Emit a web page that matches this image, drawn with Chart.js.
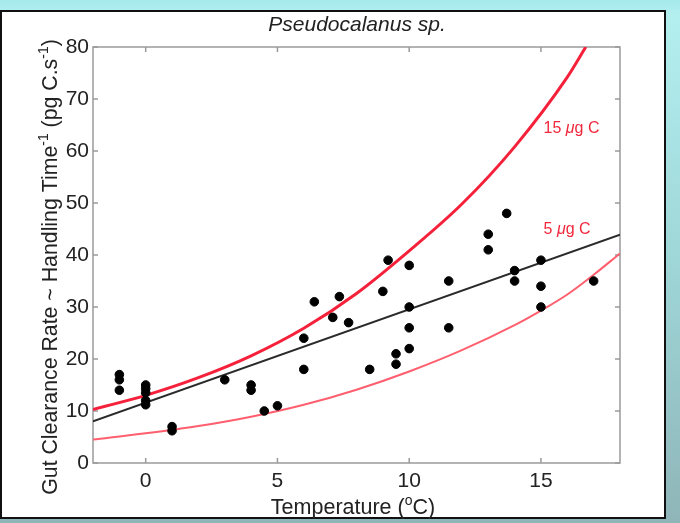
<!DOCTYPE html>
<html>
<head>
<meta charset="utf-8">
<script src="https://cdn.jsdelivr.net/npm/chart.js@4.4.1/dist/chart.umd.min.js"></script>
<style>
  html, body { margin:0; padding:0; }
  body { width:680px; height:523px; position:relative; overflow:hidden;
         background: linear-gradient(180deg, #a6eaec 0%, #b4eff0 3%, #9fd6d8 50%, #8fb5b8 100%); }
  #frame { position:absolute; left:0; top:10px; width:662px; height:505px; background:#fff; border:2px solid #111; }
  #c { position:absolute; left:0; top:0; }
</style>
</head>
<body>
<div id="frame"></div>
<canvas id="c" width="680" height="523"></canvas>
<script>
// ---- data ----
const obsTemp = [-1, -1, -1, 0, 0, 0, 0, 0, 1, 1, 3, 4, 4, 4.5, 5, 6, 6, 6.4, 7.1, 7.35, 7.7,
                 8.5, 9, 9.2, 9.5, 9.5, 10, 10, 10, 10, 11.5, 11.5, 13, 13, 13.7, 14, 14, 15, 15, 15, 17];
const obsRate = [17, 16, 14, 15, 14.3, 13.5, 12, 11.2, 7, 6.2, 16, 15, 14, 10, 11, 24, 18, 31, 28, 32, 27,
                 18, 33, 39, 21, 19, 38, 30, 26, 22, 35, 26, 44, 41, 48, 37, 35, 39, 34, 30, 35];

const curve15Temp = [-2, 0, 2, 4, 6, 8, 10, 12, 14, 16, 16.7];
const curve15Rate = [10.3, 13, 16.4, 20.6, 25.9, 32.6, 40.8, 49.8, 60.8, 74.2, 80];

const curve5Temp = [-2, 0, 2, 4, 6, 8, 10, 12, 14, 15, 16, 17, 18];
const curve5Rate = [4.5, 5.7, 7.1, 8.9, 11.2, 14.1, 17.6, 21.7, 26.5, 29.3, 32.4, 36.2, 40.3];

const fitTemp = [-2, 18];
const fitRate = [8, 43.9];

const xTicks = [0, 5, 10, 15];
const yTicks = [0, 10, 20, 30, 40, 50, 60, 70, 80];

const titleText = 'Pseudocalanus sp.';
const curveLabels = [{temp: 15.1, rate: 64.4, pre: '15 ', mu: 'μ', post: 'g C'},
                     {temp: 15.1, rate: 44.8, pre: '5 ', mu: 'μ', post: 'g C'}];

const pts = (xs, ys) => xs.map((x, i) => ({x: x, y: ys[i]}));
const FONT = '"Liberation Sans", Arial, Helvetica, sans-serif';

function drawSegments(ctx, segs, cx, cy, size) {
  const fontFor = s => (s.italic ? 'italic ' : '') + (s.sup ? Math.round(size * 0.66) : size) + 'px ' + FONT;
  let total = 0;
  segs.forEach(s => { ctx.font = fontFor(s); s.w = ctx.measureText(s.t).width; total += s.w; });
  let x = cx - total / 2;
  ctx.textBaseline = 'alphabetic';
  ctx.textAlign = 'left';
  segs.forEach(s => {
    ctx.font = fontFor(s);
    ctx.fillText(s.t, x, cy + (s.sup ? -size * 0.42 : 0));
    x += s.w;
  });
}

const decor = {
  id: 'decor',
  beforeDatasetsDraw(chart) {
    const ctx = chart.ctx, a = chart.chartArea;
    const xs = chart.scales.x, ys = chart.scales.y;
    ctx.save();
    ctx.strokeStyle = '#9a9a9a';
    ctx.lineWidth = 1.5;
    ctx.strokeRect(a.left, a.top, a.right - a.left, a.bottom - a.top);
    ctx.beginPath();
    xTicks.forEach(v => {
      const p = xs.getPixelForValue(v);
      ctx.moveTo(p, a.bottom); ctx.lineTo(p, a.bottom - 5);
      ctx.moveTo(p, a.top); ctx.lineTo(p, a.top + 5);
    });
    yTicks.forEach(v => {
      const p = ys.getPixelForValue(v);
      ctx.moveTo(a.left, p); ctx.lineTo(a.left + 5, p);
      ctx.moveTo(a.right, p); ctx.lineTo(a.right - 5, p);
    });
    ctx.stroke();
    ctx.restore();
  },
  afterDraw(chart) {
    const ctx = chart.ctx;
    const xs = chart.scales.x, ys = chart.scales.y;
    ctx.save();
    ctx.fillStyle = '#222';
    ctx.font = 'italic 21px ' + FONT;
    ctx.textAlign = 'center';
    ctx.textBaseline = 'alphabetic';
    ctx.fillText(titleText, 357, 31);
    drawSegments(ctx, [{t: 'Temperature ('}, {t: 'o', sup: true}, {t: 'C)'}], 353, 514, 21.5);
    ctx.save();
    ctx.translate(57, 267);
    ctx.rotate(-Math.PI / 2);
    drawSegments(ctx, [{t: 'Gut Clearance Rate ~ Handling Time'}, {t: '-1', sup: true},
                       {t: ' (pg C.s'}, {t: '-1', sup: true}, {t: ')'}], 0, 0, 21.3);
    ctx.restore();
    ctx.fillStyle = '#f0283c';
    curveLabels.forEach(l => {
      const x0 = xs.getPixelForValue(l.temp), y0 = ys.getPixelForValue(l.rate);
      ctx.textAlign = 'left';
      ctx.textBaseline = 'middle';
      let x = x0;
      ctx.font = '16px ' + FONT; ctx.fillText(l.pre, x, y0); x += ctx.measureText(l.pre).width;
      ctx.font = 'italic 16px ' + FONT; ctx.fillText(l.mu, x, y0); x += ctx.measureText(l.mu).width;
      ctx.font = '16px ' + FONT; ctx.fillText(l.post, x, y0);
    });
    ctx.restore();
  }
};

new Chart(document.getElementById('c'), {
  type: 'scatter',
  data: {
    datasets: [
      { label: 'obs', data: pts(obsTemp, obsRate), backgroundColor: '#000', borderColor: '#000',
        pointRadius: 4.3, pointHoverRadius: 4.3, order: 0 },
      { label: '15 ug C', data: pts(curve15Temp, curve15Rate), showLine: true, borderColor: '#f5213a',
        borderWidth: 3, pointRadius: 0, cubicInterpolationMode: 'monotone', order: 3 },
      { label: '5 ug C', data: pts(curve5Temp, curve5Rate), showLine: true, borderColor: '#ff5f6e',
        borderWidth: 2, pointRadius: 0, cubicInterpolationMode: 'monotone', order: 2 },
      { label: 'fit', data: pts(fitTemp, fitRate), showLine: true, borderColor: '#2a2a2a',
        borderWidth: 2, pointRadius: 0, order: 1 }
    ]
  },
  options: {
    responsive: false,
    animation: false,
    devicePixelRatio: 1,
    layout: { padding: { left: 0, top: 47, right: 60, bottom: 0 } },
    plugins: { legend: { display: false }, tooltip: { enabled: false }, title: { display: false } },
    scales: {
      x: {
        type: 'linear', min: -2, max: 18,
        afterBuildTicks: s => { s.ticks = xTicks.map(v => ({value: v})); },
        afterFit: s => { s.height = 60; },
        grid: { display: false, drawTicks: false },
        border: { display: false },
        ticks: { color: '#222', font: { family: FONT, size: 21 }, padding: 6, maxRotation: 0 }
      },
      y: {
        type: 'linear', min: 0, max: 80,
        afterBuildTicks: s => { s.ticks = yTicks.map(v => ({value: v})); },
        afterFit: s => { s.width = 93; },
        grid: { display: false, drawTicks: false },
        border: { display: false },
        ticks: { color: '#222', font: { family: FONT, size: 21 }, padding: 4 }
      }
    }
  },
  plugins: [decor]
});
</script>
</body>
</html>
